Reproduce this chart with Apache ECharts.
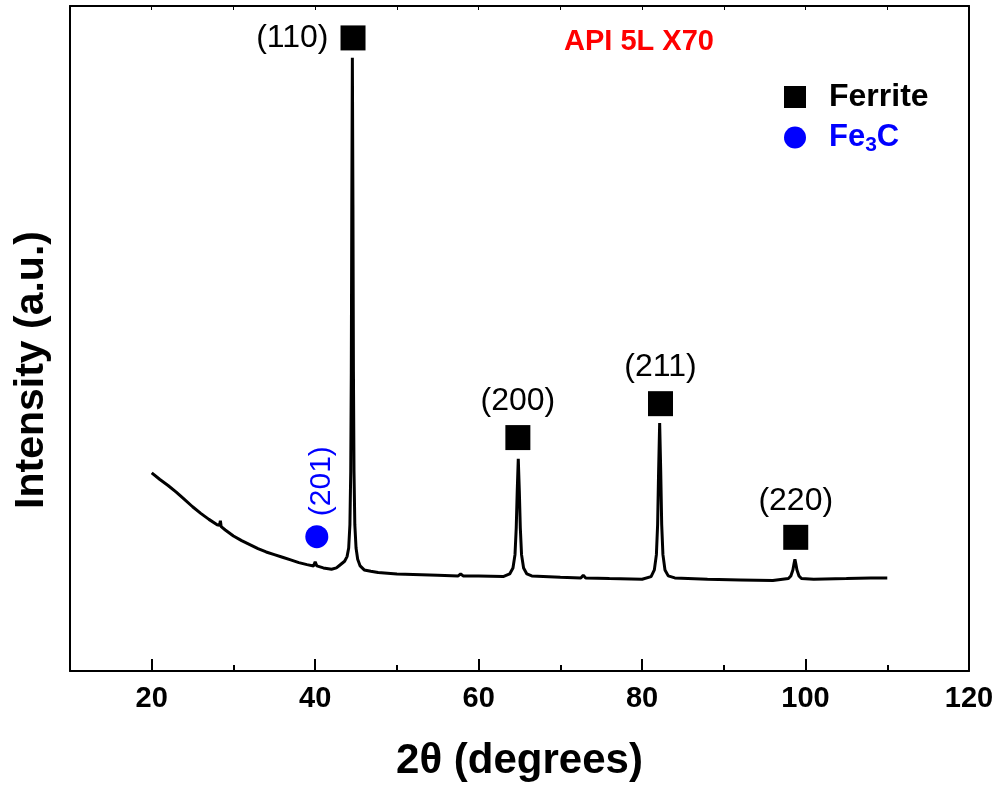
<!DOCTYPE html>
<html>
<head>
<meta charset="utf-8">
<script src="https://cdn.jsdelivr.net/npm/echarts@6/dist/echarts.min.js"></script>
<style>html,body{margin:0;padding:0;background:#fff}#c{width:1003px;height:787px}</style>
</head>
<body>
<div id="c"></div>
<script>
// XRD pattern (2θ in degrees, intensity in arbitrary units)
const xrdTheta = [20.0,21.0,22.0,23.0,24.0,25.0,26.0,27.0,28.0,28.3,28.4,28.5,29.0,30.0,31.0,32.0,33.0,34.0,35.0,36.0,37.0,38.0,39.0,39.8,40.0,40.2,41.0,42.0,42.6,43.0,43.6,43.9,44.1,44.25,44.35,44.42,44.48,44.55,44.62,44.68,44.75,44.85,45.0,45.2,45.5,46.0,46.8,47.7,50.0,55.0,57.5,57.8,58.1,60.0,63.0,63.8,64.2,64.45,64.6,64.72,64.85,64.98,65.1,65.25,65.5,65.9,66.5,70.0,72.5,72.8,73.1,76.0,80.0,81.1,81.5,81.75,81.9,82.02,82.15,82.28,82.4,82.55,82.8,83.2,84.0,88.0,92.0,96.0,97.9,98.2,98.45,98.6,98.7,98.8,98.95,99.2,99.5,101.0,105.0,108.0,110.0];
const xrdIntensity = [29.8,28.8,27.9,26.9,25.8,24.7,23.7,22.8,22.0,21.9,22.6,21.7,21.2,20.3,19.6,19.0,18.4,17.9,17.5,17.1,16.7,16.3,16.0,15.8,16.4,15.8,15.5,15.3,15.5,15.9,16.5,17.2,18.5,22.0,30.0,45.0,70.0,92.2,70.0,45.0,30.0,22.0,18.5,16.8,15.8,15.2,15.0,14.8,14.6,14.4,14.3,14.6,14.3,14.3,14.2,14.6,15.5,17.5,21.5,27.0,31.9,27.0,21.5,17.5,15.5,14.6,14.3,14.1,14.0,14.4,14.0,13.9,13.8,14.2,15.2,17.5,22.0,30.0,37.3,30.0,22.0,17.5,15.2,14.3,14.0,13.8,13.7,13.6,13.9,14.3,15.2,16.2,16.8,16.2,15.2,14.3,13.9,13.8,13.9,14.0,14.0];

// Peak markers
const ferriteTheta = [44.63, 64.8, 82.25, 98.8];
const ferriteY = [95.2, 35.1, 40.2, 20.1];
const ferriteHkl = ['(110)', '(200)', '(211)', '(220)'];
const cementiteTheta = [40.2];
const cementiteY = [20.2];
const cementiteHkl = ['(201)'];

// Axis ticks
const majorTicks = [20, 40, 60, 80, 100, 120];
const minorTicks = [30, 50, 70, 90, 110];
const topTicks = [20, 30, 40, 50, 60, 70, 80, 90, 100, 110];

const FONT = 'Arial, "Liberation Sans", Helvetica, sans-serif';

const xrdData = xrdTheta.map((t, i) => [t, xrdIntensity[i]]);
const ferriteData = ferriteTheta.map((t, i) => ({
  value: [t, ferriteY[i]],
  label: { formatter: ferriteHkl[i], position: i === 0 ? 'left' : 'top', distance: i === 0 ? 12 : 8 }
}));
const cementiteData = cementiteTheta.map((t, i) => ({
  value: [t, cementiteY[i]],
  label: { formatter: cementiteHkl[i] }
}));

const chart = echarts.init(document.getElementById('c'), null, { renderer: 'canvas' });
const axisLineStyle = { color: '#000', width: 2 };
chart.setOption({
  animation: false,
  backgroundColor: '#fff',
  title: {
    text: 'API 5L X70', left: 634, top: 22, textAlign: 'center',
    textStyle: { color: '#ff0000', fontSize: 29, fontWeight: 'bold', fontFamily: FONT }
  },
  legend: {
    orient: 'vertical', left: 779, top: 76, itemWidth: 22, itemHeight: 22, itemGap: 9,
    selectedMode: false,
    data: [
      { name: 'Ferrite', icon: 'rect', itemStyle: { color: '#000', opacity: 1 }, textStyle: { color: '#000' } },
      { name: 'Fe3C', icon: 'circle', itemStyle: { color: '#0000ff', opacity: 1 }, textStyle: { color: '#0000ff' } }
    ],
    formatter: function (n) { return n === 'Fe3C' ? '{b|Fe}{s|3}{b|C}' : '{k|Ferrite}'; },
    textStyle: {
      padding: [0, 0, 0, 18],
      rich: {
        k: { color: '#000', fontSize: 32, fontWeight: 'bold', fontFamily: FONT },
        b: { color: '#0000ff', fontSize: 31, fontWeight: 'bold', fontFamily: FONT },
        s: { color: '#0000ff', fontSize: 21, fontWeight: 'bold', fontFamily: FONT, padding: [16, 0, 0, 0] }
      }
    }
  },
  grid: { left: 70, right: 34, top: 6, bottom: 114 },
  xAxis: [
    {
      type: 'value', min: 10, max: 120, position: 'bottom',
      axisLine: { show: true, onZero: false, lineStyle: axisLineStyle },
      axisTick: { show: true, inside: true, length: 12, lineStyle: axisLineStyle, customValues: majorTicks },
      axisLabel: { customValues: majorTicks, color: '#000', fontSize: 29, fontWeight: 'bold', fontFamily: FONT, margin: 13 },
      splitLine: { show: false },
      name: '2θ (degrees)', nameLocation: 'middle', nameGap: 69,
      nameTextStyle: { color: '#000', fontSize: 42, fontWeight: 'bold', fontFamily: FONT }
    },
    {
      type: 'value', min: 10, max: 120, position: 'bottom',
      axisLine: { show: false },
      axisTick: { show: true, inside: true, length: 6, lineStyle: axisLineStyle, customValues: minorTicks },
      axisLabel: { show: false }, splitLine: { show: false }
    },
    {
      type: 'value', min: 10, max: 120, position: 'top',
      axisLine: { show: true, onZero: false, lineStyle: axisLineStyle },
      axisTick: { show: true, inside: true, length: 4, lineStyle: { color: '#000', width: 1 }, customValues: topTicks },
      axisLabel: { show: false }, splitLine: { show: false }
    }
  ],
  yAxis: [
    {
      type: 'value', min: 0, max: 100, position: 'left',
      axisLine: { show: true, onZero: false, lineStyle: axisLineStyle },
      axisTick: { show: false }, axisLabel: { show: false }, splitLine: { show: false }
    },
    {
      type: 'value', min: 0, max: 100, position: 'right',
      axisLine: { show: true, onZero: false, lineStyle: axisLineStyle },
      axisTick: { show: false }, axisLabel: { show: false }, splitLine: { show: false }
    }
  ],
  graphic: [{
    type: 'text', x: 32, y: 370, rotation: Math.PI / 2,
    style: {
      text: 'Intensity (a.u.)', fill: '#000', align: 'center', verticalAlign: 'middle',
      font: 'bold 41px ' + FONT
    }
  }],
  series: [
    {
      name: 'XRD', type: 'line', data: xrdData, showSymbol: false, smooth: false,
      lineStyle: { color: '#000', width: 3 }, silent: true, z: 2
    },
    {
      name: 'Ferrite', type: 'scatter', data: ferriteData, symbol: 'rect', symbolSize: 25,
      itemStyle: { color: '#000', opacity: 1 }, z: 3, emphasis: { disabled: true },
      label: { show: true, color: '#000', fontSize: 32, fontFamily: FONT }
    },
    {
      name: 'Fe3C', type: 'scatter', data: cementiteData, symbol: 'circle', symbolSize: 23,
      itemStyle: { color: '#0000ff', opacity: 1 }, z: 3, emphasis: { disabled: true },
      label: { show: true, color: '#0000ff', fontSize: 30, fontFamily: FONT, position: 'top', rotate: 90, distance: 9, align: 'left', verticalAlign: 'middle', offset: [0, 5] }
    }
  ]
});
</script>
</body>
</html>
